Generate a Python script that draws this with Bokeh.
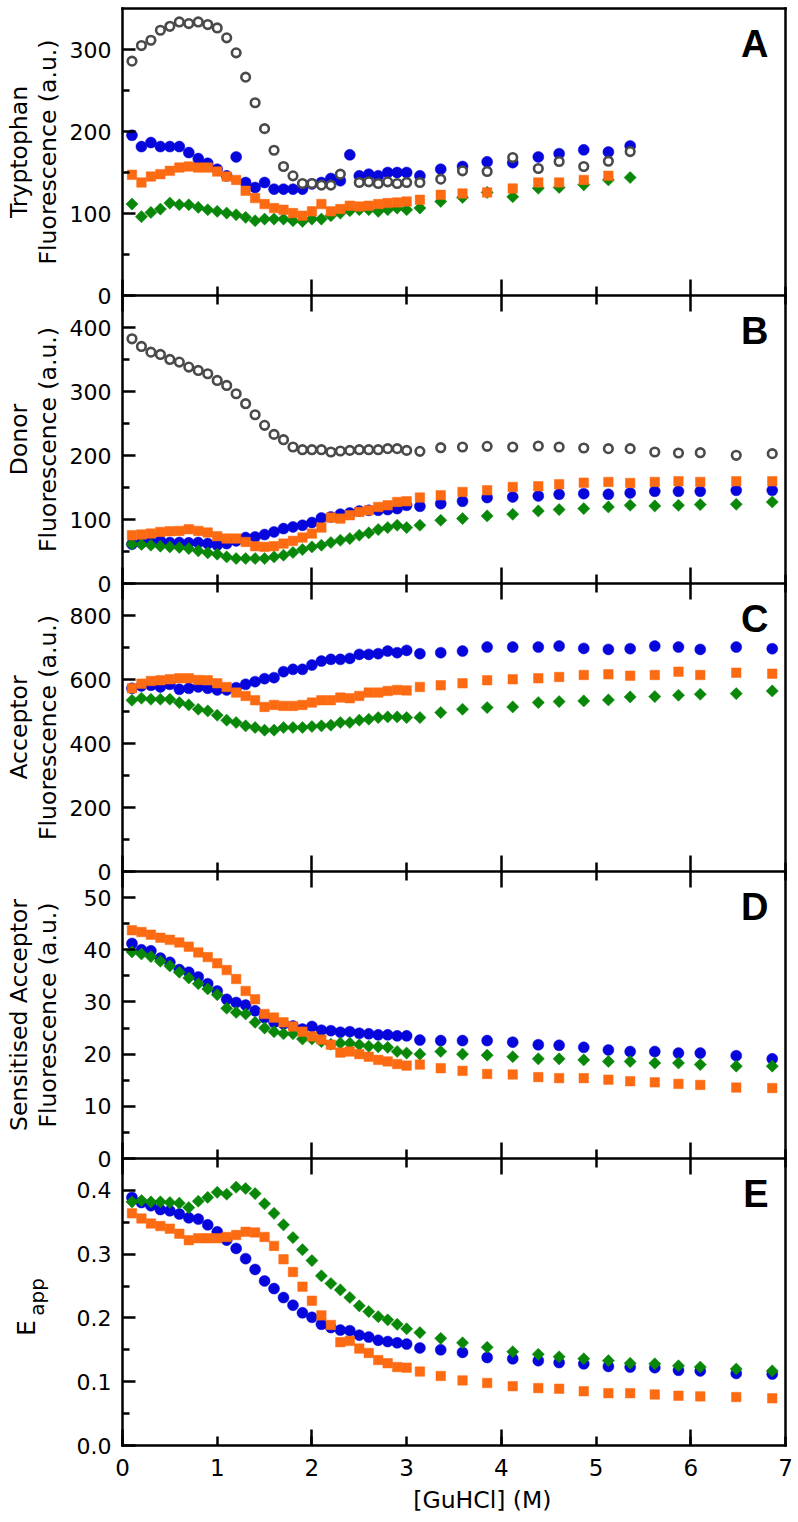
import numpy as np
from bokeh.plotting import figure
from bokeh.models import FixedTicker, LinearAxis, Label, Range1d, NumeralTickFormatter
from bokeh.layouts import column
from bokeh.embed import file_html
from bokeh.resources import INLINE

nan = float("nan")

# GuHCl concentrations (M)
guhcl = [0.1, 0.2, 0.3, 0.4, 0.5, 0.6, 0.7, 0.8, 0.9, 1.0,
         1.1, 1.2, 1.3, 1.4, 1.5, 1.6, 1.7, 1.8, 1.9, 2.0,
         2.1, 2.2, 2.3, 2.4, 2.5, 2.6, 2.7, 2.8, 2.9,
         3.0, 3.14, 3.36, 3.59, 3.85, 4.12, 4.39, 4.61, 4.87, 5.13, 5.36,
         5.62, 5.87, 6.10, 6.48, 6.86]

# Panel A: Tryptophan fluorescence (only up to 5.36 M)
trp_gray = [285.8, 304.8, 311.3, 323.5, 328.3, 333.6, 331.6, 333.6, 330.4, 326.3,
            314.2, 295.9, 266.3, 235.1, 203.5, 177.1, 157.3, 145.9, 136.6, 136.6,
            134.6, 134.6, 148.0, nan, 137.8, 138.6, 136.6, 138.6, 136.6,
            137.8, 137.8, 141.9, 152.0, 151.2, 168.2, 154.9, 163.4, 157.3, 163.8, 175.5]
trp_blue = [195.4, 181.6, 186.5, 181.6, 181.6, 181.6, 174.3, 167.0, 161.3, 154.0,
            145.9, 169.0, 137.8, 131.7, 137.8, 129.7, 129.7, 129.7, 129.7, 136.0,
            137.8, 142.7, 140.0, 171.5, 145.9, 148.0, 146.0, 150.0, 150.0,
            150.0, 145.9, 154.0, 157.3, 163.0, 162.0, 169.0, 173.0, 177.6, 175.0, 182.4]
trp_orange = [147.2, 137.8, 145.1, 148.0, 152.0, 156.0, 157.3, 156.0, 156.0, 151.2,
              145.1, 141.0, 127.7, 118.8, 111.5, 106.6, 104.6, 100.5, 97.3, 102.6,
              111.5, 102.6, 105.4, 109.5, 108.6, 109.5, 111.5, 112.7, 113.5,
              114.7, 116.8, 122.8, 124.5, 125.7, 130.5, 137.8, 137.8, 141.0, 146.0, nan]
trp_green = [111.5, 96.1, 101.3, 105.4, 112.7, 110.7, 110.7, 107.4, 104.6, 102.6,
             100.5, 98.5, 95.3, 91.2, 93.2, 93.2, 93.2, 91.2, 90.4, 93.2,
             93.2, 97.3, 100.5, 103.4, 104.6, 104.6, 102.6, 104.6, 106.6,
             104.6, 106.6, 114.7, 119.6, 125.7, 120.4, 130.9, 131.7, 135.0, 141.0, 143.9]

# Panel B: Donor fluorescence
don_gray = [382.3, 370.4, 361.5, 357.9, 350.1, 345.9, 338.1, 332.9, 327.7, 317.3,
            309.5, 296.5, 280.9, 263.7, 247.1, 233.0, 224.7, 213.3, 209.1, 209.1,
            209.1, 205.5, 207.0, 208.0, 209.1, 209.1, 209.1, 210.7, 210.7,
            208.0, 206.5, 212.2, 213.3, 214.3, 213.3, 214.8, 213.3, 211.7, 210.7, 210.7,
            205.5, 203.9, 204.4, 200.3, 202.9]
don_blue = [61.4, 63.5, 65.0, 66.6, 64.0, 64.0, 63.5, 64.0, 62.4, 59.8,
            62.4, 66.6, 71.8, 72.8, 76.5, 80.6, 85.8, 88.4, 91.0, 95.2,
            102.5, 104.0, 108.2, 110.3, 113.4, 114.4, 114.4, 115.5, 117.0,
            122.2, 120.7, 124.8, 128.5, 134.2, 135.2, 136.8, 139.4, 140.4, 139.4, 141.5,
            144.1, 144.1, 144.1, 145.6, 145.6]
don_orange = [75.4, 76.5, 78.0, 80.6, 81.7, 82.2, 84.8, 82.2, 79.6, 73.9,
              70.2, 70.2, 65.0, 58.3, 57.2, 58.3, 62.4, 66.6, 71.8, 78.0,
              87.4, 103.0, 101.4, 106.6, 111.8, 114.4, 119.6, 122.2, 127.4,
              128.5, 134.2, 137.8, 143.0, 145.6, 150.9, 151.9, 155.0, 157.6, 158.7, 157.1,
              158.7, 159.7, 158.7, 159.7, 159.7]
don_green = [61.4, 60.9, 59.8, 58.3, 57.2, 56.2, 54.6, 51.0, 47.9, 45.8,
             41.6, 39.0, 39.0, 39.0, 39.0, 41.6, 44.2, 48.4, 53.1, 57.2,
             59.8, 64.0, 67.6, 70.2, 75.4, 79.1, 84.3, 87.4, 91.0,
             87.4, 91.0, 98.8, 101.4, 105.6, 108.2, 113.4, 115.5, 117.0, 119.6, 122.2,
             121.2, 122.2, 123.3, 123.8, 127.4]

# Panel C: Acceptor fluorescence
acc_blue = [572.5, 579.8, 581.9, 576.7, 585.0, 569.4, 572.5, 576.7, 572.5, 567.3,
            567.3, 574.6, 585.0, 593.3, 602.7, 605.8, 624.5, 631.8, 631.8, 645.3,
            657.7, 662.9, 662.9, 666.0, 678.5, 678.5, 680.6, 688.9, 683.7,
            691.0, 680.6, 683.7, 688.9, 701.4, 701.4, 701.4, 704.5, 697.2, 694.1, 696.2,
            704.5, 701.4, 694.1, 701.4, 696.2]
acc_orange = [572.5, 587.0, 595.4, 597.5, 600.6, 603.7, 603.7, 598.5, 597.5, 588.1,
              576.7, 559.0, 548.6, 535.1, 514.3, 520.6, 517.5, 517.5, 520.6, 527.8,
              535.1, 535.1, 543.4, 541.4, 548.6, 559.0, 559.0, 564.2, 567.3,
              566.0, 576.7, 581.9, 588.1, 597.5, 600.6, 603.7, 607.9, 614.1, 616.2, 612.0,
              614.1, 624.5, 614.1, 621.4, 618.3]
acc_green = [535.1, 541.4, 538.3, 538.3, 538.3, 527.8, 520.6, 507.1, 501.9, 488.4,
             472.8, 465.5, 455.1, 449.9, 441.6, 441.6, 449.9, 449.9, 449.9, 453.0,
             455.1, 457.2, 465.5, 465.5, 472.8, 475.9, 481.1, 483.2, 483.2,
             481.1, 481.1, 496.7, 507.1, 512.3, 514.3, 527.8, 530.9, 533.0, 536.2, 545.5,
             546.6, 550.7, 553.8, 555.9, 564.2]

# Panel D: Sensitised acceptor fluorescence
sa_blue = [41.2, 40.0, 39.8, 38.4, 37.6, 36.2, 35.7, 34.8, 33.5, 32.1,
           30.5, 29.9, 29.4, 28.3, 27.0, 26.1, 25.8, 25.4, 24.8, 25.3,
           24.6, 24.5, 24.2, 24.3, 24.0, 23.9, 23.7, 23.7, 23.5,
           23.5, 22.7, 22.6, 22.6, 22.6, 22.3, 21.8, 21.7, 21.3, 20.8, 20.5,
           20.5, 20.2, 20.2, 19.7, 19.1]
sa_orange = [43.75, 43.4, 42.9, 42.3, 41.9, 41.4, 40.6, 39.5, 38.6, 37.4,
             36.1, 34.4, 32.1, 30.5, 27.7, 27.0, 26.1, 25.3, 24.3, 23.4,
             22.8, 21.8, 20.3, 20.5, 20.0, 19.5, 18.9, 18.6, 18.1,
             17.8, 18.0, 17.3, 16.8, 16.2, 16.1, 15.6, 15.4, 15.4, 15.1, 14.8,
             14.6, 14.3, 14.1, 13.6, 13.5]
sa_green = [39.6, 39.2, 38.7, 37.8, 36.9, 35.7, 34.6, 33.5, 32.5, 31.4,
            28.8, 28.0, 27.7, 26.1, 25.0, 24.3, 23.9, 23.9, 22.9, 22.9,
            22.4, 21.9, 22.1, 22.1, 21.8, 21.5, 21.4, 21.3, 20.5,
            20.2, 20.0, 20.5, 20.0, 19.8, 19.5, 19.1, 19.1, 18.9, 18.6, 18.6,
            18.3, 18.3, 18.0, 17.7, 17.7]

# Panel E: E_app
e_blue = [0.389, 0.381, 0.376, 0.370, 0.368, 0.363, 0.357, 0.355, 0.346, 0.335,
          0.322, 0.309, 0.293, 0.276, 0.258, 0.246, 0.232, 0.220, 0.208, 0.201,
          0.190, 0.185, 0.181, 0.180, 0.173, 0.170, 0.165, 0.163, 0.161,
          0.159, 0.153, 0.150, 0.146, 0.138, 0.136, 0.133, 0.130, 0.128, 0.124, 0.123,
          0.122, 0.118, 0.117, 0.113, 0.112]
e_orange = [0.364, 0.356, 0.348, 0.344, 0.340, 0.332, 0.322, 0.325, 0.325, 0.325,
            0.327, 0.330, 0.335, 0.334, 0.327, 0.313, 0.292, 0.272, 0.249, 0.227,
            0.204, 0.189, 0.162, 0.164, 0.152, 0.145, 0.134, 0.129, 0.123,
            0.122, 0.116, 0.109, 0.102, 0.098, 0.093, 0.090, 0.089, 0.085, 0.082, 0.082,
            0.080, 0.078, 0.077, 0.076, 0.074]
e_green = [0.382, 0.384, 0.382, 0.382, 0.381, 0.380, 0.373, 0.383, 0.389, 0.397,
           0.394, 0.405, 0.403, 0.395, 0.379, 0.364, 0.346, 0.326, 0.307, 0.290,
           0.266, 0.254, 0.244, 0.232, 0.219, 0.210, 0.202, 0.197, 0.190,
           0.183, 0.177, 0.168, 0.161, 0.154, 0.147, 0.143, 0.139, 0.136, 0.133, 0.129,
           0.128, 0.125, 0.123, 0.120, 0.117]

x_ticks = [0, 1, 2, 3, 4, 5, 6, 7]
x_short_ticks = [1, 3, 5, 7]
x_long_ticks = [0, 2, 4, 6]

BLUE = "#0505dc"
ORANGE = "#fc6a12"
GREEN = "#098709"
GRAY = "#4a4a4a"
FONT = "DejaVu Sans"
BOLD_FONT = "Liberation Sans"
LW = 2.5

# layout (pixels, page coordinates; the page body has no margin)
FRAME_LEFT_PX = 122.0      # page x of x = 0
PX_PER_X = 663.0 / 7.0     # pixels per M
CANVAS_W = 796
XR = Range1d(-FRAME_LEFT_PX / PX_PER_X, (CANVAS_W - FRAME_LEFT_PX) / PX_PER_X)
BELOW = 16                 # frame extension below y = 0 (room for the "0" label)


def style_line(ax, draw_line=True):
    ax.axis_line_width = LW
    ax.axis_line_color = "black" if draw_line else None
    ax.axis_line_cap = "square"
    ax.major_tick_line_width = LW
    ax.minor_tick_line_width = LW
    ax.major_tick_line_color = "black"
    ax.minor_tick_line_color = "black"
    ax.major_tick_out = 0
    ax.minor_tick_out = 0


def tick_only_axes(p, at, side, draw_line):
    """Unlabelled x boundary: short ticks at odd M, long ticks at even M."""
    a1 = LinearAxis(fixed_location=at, bounds=(0, 7),
                    ticker=FixedTicker(ticks=[], minor_ticks=x_short_ticks))
    style_line(a1, draw_line)
    a1.minor_tick_in = 9
    a2 = LinearAxis(fixed_location=at, bounds=(0, 7),
                    ticker=FixedTicker(ticks=[], minor_ticks=x_long_ticks))
    style_line(a2, False)
    a2.minor_tick_in = 16
    p.add_layout(a1, side)
    p.add_layout(a2, side)


def make_panel(ymax, panel_h, yticks, yminor, letter, titles, first=False, last=False, fmt=None):
    below = 71 if last else BELOW
    above = 3 if first else 0
    ppy = panel_h / ymax
    p = figure(frame_width=CANVAS_W, frame_height=panel_h + below + above,
               x_range=XR, y_range=Range1d(-below / ppy, ymax + above / ppy),
               x_axis_type=None, y_axis_type=None,
               output_backend="svg", toolbar_location=None,
               min_border_left=0, min_border_right=0,
               min_border_top=5 if first else 0, min_border_bottom=0)
    p.border_fill_color = None
    p.background_fill_color = None
    p.outline_line_color = None
    if not first:
        p.margin = (-BELOW, 0, 0, 0)

    # left y axis at x = 0
    yax = LinearAxis(fixed_location=0, bounds=(0, ymax),
                     ticker=FixedTicker(ticks=yticks, minor_ticks=yminor))
    style_line(yax)
    yax.major_tick_in = 13
    yax.minor_tick_in = 7
    yax.major_label_text_font = FONT
    yax.major_label_text_font_size = "22px"
    yax.major_label_text_color = "black"
    yax.major_label_standoff = 11
    if fmt:
        yax.formatter = NumeralTickFormatter(format=fmt)
    p.add_layout(yax, "left")

    # right boundary at x = 7
    rax = LinearAxis(fixed_location=7, bounds=(0, ymax), ticker=FixedTicker(ticks=[]))
    style_line(rax)
    rax.major_tick_in = 0
    rax.minor_tick_in = 0
    p.add_layout(rax, "right")

    # top boundary
    if first:
        tax = LinearAxis(fixed_location=ymax, bounds=(0, 7), ticker=FixedTicker(ticks=[]))
        style_line(tax)
        tax.major_tick_in = 0
        tax.minor_tick_in = 0
        p.add_layout(tax, "above")
    else:
        tick_only_axes(p, ymax, "above", draw_line=False)

    # bottom boundary
    if last:
        bax = LinearAxis(fixed_location=0, bounds=(0, 7),
                         ticker=FixedTicker(ticks=x_ticks, minor_ticks=x_long_ticks))
        style_line(bax)
        bax.major_tick_in = 9
        bax.minor_tick_in = 16
        bax.major_label_text_font = FONT
        bax.major_label_text_font_size = "23px"
        bax.major_label_text_color = "black"
        bax.major_label_standoff = 13
        p.add_layout(bax, "below")
    else:
        tick_only_axes(p, 0, "below", draw_line=True)

    p.add_layout(Label(x=7, y=ymax, x_offset=-17, y_offset=-14, text=letter,
                       text_font=BOLD_FONT, text_font_size="38px", text_font_style="bold",
                       text_align="right", text_baseline="top", text_color="black"))
    for txt, yc, xo, yo, size in titles:
        p.add_layout(Label(x=0, y=yc, x_offset=xo, y_offset=yo, text=txt, angle=np.pi / 2,
                           text_font=FONT, text_font_size=size, text_align="center",
                           text_baseline="middle", text_color="black"))
    return p


def add_series(p, xs, ys, kind):
    if kind == "blue":
        p.scatter(xs, ys, marker="circle", size=11, fill_color=BLUE, line_color=BLUE, line_width=0.5)
    elif kind == "orange":
        p.scatter(xs, ys, marker="square", size=9.5, fill_color=ORANGE, line_color=ORANGE, line_width=0.5)
    elif kind == "green":
        p.scatter(xs, ys, marker="square", angle=np.pi / 4, size=8.6, fill_color=GREEN,
                  line_color=GREEN, line_width=0.5)
    elif kind == "gray":
        p.scatter(xs, ys, marker="circle", size=8.6, fill_color="white", line_color=GRAY, line_width=2.6)


xA = guhcl[:len(trp_gray)]

pA = make_panel(350, 287, [0, 100, 200, 300], [50, 150, 250], "A",
                [("Tryptophan", 175, -104, 0, "23.5px"),
                 ("Fluorescence (a.u.)", 175, -74.5, 0, "23.5px")], first=True)
add_series(pA, xA, trp_blue, "blue")
add_series(pA, xA, trp_green, "green")
add_series(pA, xA, trp_orange, "orange")
add_series(pA, xA, trp_gray, "gray")

pB = make_panel(450, 288, [0, 100, 200, 300, 400], [50, 150, 250, 350], "B",
                [("Donor", 225, -104, 0, "23.5px"),
                 ("Fluorescence (a.u.)", 225, -74.5, 0, "23.5px")])
add_series(pB, guhcl, don_blue, "blue")
add_series(pB, guhcl, don_green, "green")
add_series(pB, guhcl, don_orange, "orange")
add_series(pB, guhcl, don_gray, "gray")

pC = make_panel(900, 288, [0, 200, 400, 600, 800], [100, 300, 500, 700], "C",
                [("Acceptor", 450, -104, 0, "23.5px"),
                 ("Fluorescence (a.u.)", 450, -74.5, 0, "23.5px")])
add_series(pC, guhcl, acc_blue, "blue")
add_series(pC, guhcl, acc_green, "green")
add_series(pC, guhcl, acc_orange, "orange")

pD = make_panel(55, 287, [0, 10, 20, 30, 40, 50], [5, 15, 25, 35, 45], "D",
                [("Sensitised Acceptor", 27.5, -104, 0, "23.5px"),
                 ("Fluorescence (a.u.)", 27.5, -74.5, 0, "23.5px")])
add_series(pD, guhcl, sa_blue, "blue")
add_series(pD, guhcl, sa_green, "green")
add_series(pD, guhcl, sa_orange, "orange")

pE = make_panel(0.45, 287, [0.0, 0.1, 0.2, 0.3, 0.4], [0.05, 0.15, 0.25, 0.35], "E",
                [("E", 0.225, -95.7, -26, "25px"), ("app", 0.225, -86, 5, "20px")],
                last=True, fmt="0.0")
add_series(pE, guhcl, e_blue, "blue")
add_series(pE, guhcl, e_green, "green")
add_series(pE, guhcl, e_orange, "orange")
pE.add_layout(Label(x=3.8, y=0, y_offset=-40, text="[GuHCl] (M)", text_font=FONT,
                    text_font_size="23.5px", text_align="center", text_baseline="top",
                    text_color="black"))

layout = column(pA, pB, pC, pD, pE, spacing=0)
open("out.html", "w").write(file_html(layout, INLINE))
